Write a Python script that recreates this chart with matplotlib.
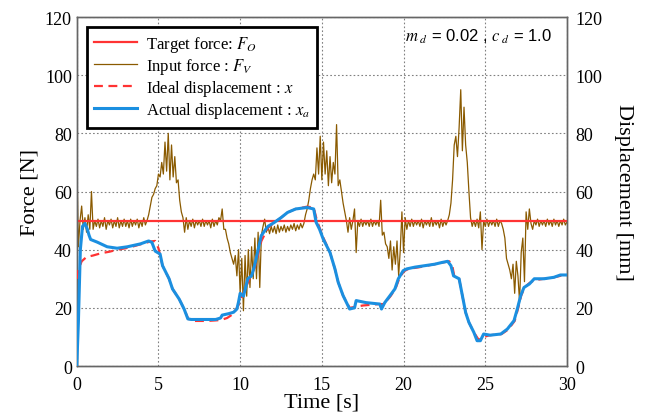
import matplotlib
matplotlib.use("Agg")
import matplotlib.pyplot as plt
import numpy as np

force_in = [
    73, 41, 50, 55, 47, 51, 46, 52, 47, 60,
    47, 50, 48, 50.5, 47.5, 50, 48, 51, 47, 50,
    48.5, 50.5, 47.5, 50, 48, 51, 47.5, 50, 48, 50.5,
    48, 50, 47.5, 50.5, 48, 50, 48.5, 50.5, 47.5, 50,
    48, 51, 48.5, 50, 52, 55, 58, 59, 61, 62,
    66, 65, 70, 66, 77, 67, 80, 64, 76, 65,
    72, 63, 64, 57, 53, 51, 46, 51, 47, 50,
    48, 50.5, 47.5, 50, 48.5, 50, 48, 50.5, 48, 50,
    48.5, 50, 47.5, 50.5, 48, 50, 48.5, 51, 50, 54,
    47, 47, 44, 42, 39, 37, 35, 38, 31, 40,
    25, 37, 19, 38, 24, 40, 27, 41, 30, 44,
    30, 46, 27, 45, 48, 50.5, 46, 48, 45.5, 48,
    46, 48, 45.5, 48.5, 46, 48, 46.5, 48.5, 46, 48,
    46.5, 48.5, 47, 49, 46.5, 48.5, 47, 49, 47.5, 49,
    52, 54, 57, 61, 64, 66, 64, 75, 66, 79,
    64, 77, 66, 74, 62, 72, 63, 70, 66, 83,
    62, 64, 60, 56, 53, 50, 46, 51, 47, 50,
    54, 39, 50, 48, 50.5, 48, 50, 48.5, 50, 48,
    50.5, 48, 50, 48.5, 50, 48, 57, 45, 46, 42,
    41, 37, 43, 33, 41, 35, 43, 31, 40, 53,
    39, 51, 47, 50, 48, 50.5, 48, 50, 48.5, 50,
    48, 50.5, 47.5, 50, 48.5, 50, 48, 51, 48, 50,
    48.5, 50, 47.5, 50.5, 48, 50, 48.5, 50, 52, 56,
    64, 76, 79, 72, 82, 95, 74, 89, 76, 70,
    60, 51, 48, 50, 48, 50.5, 47.5, 53, 40, 50,
    48, 50.5, 48, 50, 48.5, 50, 48, 50.5, 48, 50,
    49, 47, 44, 37, 35, 33, 30, 35, 25, 36,
    31, 22, 39, 44, 29, 53, 47, 54, 49, 47,
    50, 48.5, 50.5, 48, 50, 48.5, 50, 48, 50.5, 48.5,
    50, 48, 50.5, 48.5, 50, 48, 50, 48.5, 50.5, 48.5,
    49.5,
]
t_force = np.arange(len(force_in)) * 0.1

target_force = 50

# ideal displacement x
t_ideal = [0, 0.1, 0.3, 0.6, 1.0, 1.5, 2.0, 2.5, 3.0, 3.5, 4.0, 4.5, 4.8, 5.0, 5.25,
           5.65, 5.86, 6.27, 6.57, 6.8, 7.0, 8.0, 8.8, 9.2, 9.6, 9.9, 10.2, 10.5, 10.9,
           11.3, 11.7, 12.1, 12.5, 12.9, 13.4, 14.1, 14.5, 14.7, 14.9, 15.1, 15.5, 15.8,
           16.0, 16.3, 16.7, 17.0, 17.5, 18.5, 18.8, 19.2, 19.5, 19.7, 20.0, 20.3, 21.0,
           21.9, 22.4, 22.8, 23.0, 23.1, 23.4, 23.6, 23.8, 24.0, 24.3, 24.6, 24.9, 25.3,
           26.0, 26.4, 26.8, 27.0, 27.2, 27.4, 27.7, 28.0, 28.6, 29.2, 29.6, 30.0]
x_ideal = [30, 33, 36, 37.5, 38, 38.8, 39.3, 40, 40.5, 41.2, 42, 42.8, 43, 40.5, 34.5,
           30, 26.5, 23, 19.6, 16.5, 15.5, 15.5, 15.8, 16.5, 18, 21, 25, 29, 34,
           43, 47.5, 49.4, 51, 52.8, 54, 54.8, 54.5, 50, 47, 44, 39, 33.4,
           28.8, 24.2, 20, 20.3, 20.8, 21.3, 21.3, 24, 26.5, 29.5, 32.5, 33.4, 34,
           35, 35.6, 36, 34, 31, 30, 24.2, 18.4, 15, 11.6, 9, 10, 10.6,
           11, 12.5, 15.5, 19.6, 24.2, 27, 28.5, 29.5, 30, 30.5, 31, 31.3]

# actual displacement x_a
t_actual = [0, 0.1, 0.22, 0.35, 0.5, 0.65, 0.75, 0.85, 1.25, 1.86, 2.47, 3.1, 3.9, 4.4,
            4.6, 4.8, 5.1, 5.25, 5.65, 5.86, 6.27, 6.57, 6.8, 7.0, 7.5, 8.0, 8.5, 8.8,
            8.9, 9.3, 9.6, 9.8, 9.9, 10.0, 10.2, 10.47, 10.7, 10.88, 11.1, 11.29, 11.5,
            11.7, 12.1, 12.5, 12.9, 13.4, 14.1, 14.5, 14.65, 14.86, 15.08, 15.5, 15.8,
            16.0, 16.3, 16.7, 17.0, 17.1, 17.7, 18.55, 18.65, 18.85, 19.17, 19.47, 19.68,
            19.98, 20.2, 20.7, 21.3, 21.9, 22.35, 22.7, 22.9, 23.06, 23.4, 23.6, 23.8,
            24.0, 24.3, 24.5, 24.7, 24.9, 25.3, 25.95, 26.35, 26.76, 26.96, 27.17, 27.37,
            27.7, 28.0, 28.6, 29.2, 29.6, 30.0]
x_actual = [0, 15, 40, 48, 49, 47, 45, 43.5, 42.6, 41, 40.5, 41, 42, 43,
            42.5, 39.5, 38.5, 34.5, 30, 26.5, 23, 19.6, 16.2, 16, 16, 16, 16, 16.5,
            17.5, 18, 18.5, 19.6, 22, 25, 24, 30, 31, 34.5, 40, 44.8, 46.5,
            48, 49.4, 51, 52.8, 54, 54.5, 54, 49.4, 47, 43.7, 39, 33.4,
            28.8, 24.2, 19.6, 20, 22.5, 21.8, 21.3, 19.6, 21.8, 24.2, 26.5, 30,
            32.8, 33.4, 34, 34.5, 35, 35.6, 36, 34.5, 31, 30, 24.2, 18.4,
            15, 11.6, 8.7, 8.7, 11, 10.6, 11, 12.7, 15.6, 19.6, 24.2, 27,
            28.2, 30, 30, 30.5, 31.3, 31.3]

plt.rcParams['font.family'] = 'Liberation Serif'
plt.rcParams['mathtext.fontset'] = 'stix'

fig = plt.figure(figsize=(6.45, 4.14), dpi=100)
ax = fig.add_axes([0.119, 0.1135, 0.76, 0.843])
ax2 = ax.twinx()

red = '#ff3333'
brown = '#8a5a00'
blue = '#1b8fe0'

l2, = ax.plot(t_force, force_in, color=brown, lw=0.9, zorder=2, label='Input force : $F_V$')
l1 = ax.axhline(target_force, color=red, lw=1.6, zorder=3, label='Target force: $F_O$')
l3, = ax2.plot(t_ideal, x_ideal, color=red, lw=1.6, ls=(0, (4, 2.5)), zorder=4,
               label='Ideal displacement : $x$')
l4, = ax2.plot(t_actual, x_actual, color=blue, lw=2.2, zorder=5,
               label='Actual displacement : $x_a$')

# twin axis sits on top, keep force curves visible underneath displacement
ax.set_zorder(1)
ax2.set_zorder(2)
ax2.patch.set_visible(False)

for a in (ax, ax2):
    a.set_xlim(0, 30)
    a.set_ylim(0, 120)
    a.set_yticks(np.arange(0, 121, 20))
    a.tick_params(direction='in', length=0, labelsize=13)
    for s in a.spines.values():
        s.set_color('#666666')
        s.set_linewidth(1.0)
ax.set_xticks(np.arange(0, 31, 5))
ax.tick_params(axis='x', pad=7)
ax2.tick_params(axis='y', pad=6)
ax.grid(True, color='#808080', ls=(0, (1.5, 2)), lw=0.8)

ax.set_xlabel('Time [s]', fontsize=16, labelpad=0)
ax.set_ylabel('Force [N]', fontsize=16, labelpad=4)
ax2.set_ylabel('Displacement [mm]', fontsize=16, rotation=-90, labelpad=22)

leg = ax2.legend(handles=[l1, l2, l3, l4], loc='upper left', bbox_to_anchor=(0.02, 0.972),
                 borderaxespad=0, fontsize=12, handlelength=2.6, handletextpad=0.5,
                 labelspacing=0.12, fancybox=False, framealpha=1, edgecolor='black',
                 borderpad=0.45)
leg.get_frame().set_linewidth(2)

ax2.text(0.67, 0.945, r'$m_{\ d}$ = 0.02 , $c_{\ d}$ = 1.0', transform=ax2.transAxes,
         fontsize=12, family='Liberation Sans', va='center', ha='left')

fig.savefig('out.png', dpi=100)
